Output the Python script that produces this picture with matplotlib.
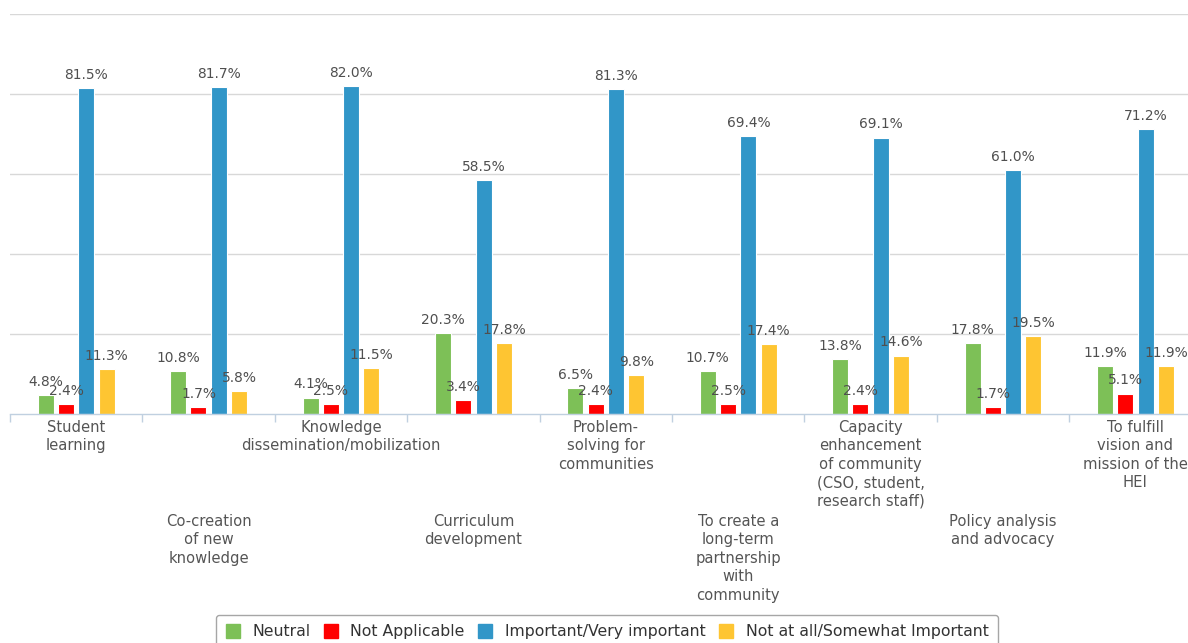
import matplotlib
matplotlib.use("Agg")
import matplotlib.pyplot as plt
from matplotlib.lines import Line2D
import numpy as np

categories = [
    "Student\nlearning",
    "Co-creation\nof new\nknowledge",
    "Knowledge\ndissemination/mobilization",
    "Curriculum\ndevelopment",
    "Problem-\nsolving for\ncommunities",
    "To create a\nlong-term\npartnership\nwith\ncommunity",
    "Capacity\nenhancement\nof community\n(CSO, student,\nresearch staff)",
    "Policy analysis\nand advocacy",
    "To fulfill\nvision and\nmission of the\nHEI",
]

series_names = ["Neutral", "Not Applicable", "Important/Very important",
                "Not at all/Somewhat Important"]
neutral = [4.8, 10.8, 4.1, 20.3, 6.5, 10.7, 13.8, 17.8, 11.9]
not_applicable = [2.4, 1.7, 2.5, 3.4, 2.4, 2.5, 2.4, 1.7, 5.1]
important = [81.5, 81.7, 82.0, 58.5, 81.3, 69.4, 69.1, 61.0, 71.2]
not_at_all = [11.3, 5.8, 11.5, 17.8, 9.8, 17.4, 14.6, 19.5, 11.9]
series_values = [neutral, not_applicable, important, not_at_all]
series_colors = ["#7dc057", "#ff0000", "#3196c8", "#fec532"]

W, H = 1188, 643
fig = plt.figure(figsize=(W / 100, H / 100), dpi=100)
fig.patch.set_facecolor("white")

# plot area: left edge at 10px, baseline at 414px, top grid line at 14px
cat_px = 132.4
left_px, base_px, top_px = 10, 414, 14
ax = fig.add_axes([left_px / W, (H - base_px) / H,
                   len(categories) * cat_px / W, (base_px - top_px) / H])

x = np.arange(len(categories))
pitch = 20.3 / cat_px
bar_w = 16.0 / cat_px
for k, (vals, col) in enumerate(zip(series_values, series_colors)):
    xs = x + (k - 1.5) * pitch
    ax.bar(xs, vals, width=bar_w, color=col, edgecolor="white",
           linewidth=0.8, zorder=3)
    for xi, v in zip(xs, vals):
        ax.annotate(f"{v:.1f}%", (xi, v), xytext=(0, 4.5),
                    textcoords="offset points", ha="center", va="bottom",
                    fontsize=9.9, color="#4f4f4f", zorder=4)

ax.set_xlim(-0.5, len(categories) - 0.5)
ax.set_ylim(0, 100)
ax.set_yticks([20, 40, 60, 80, 100])
ax.yaxis.grid(True, color="#d8d8d8", linewidth=1.0, zorder=0)
ax.tick_params(axis="y", length=0, labelleft=False)

for s in ["top", "right", "left"]:
    ax.spines[s].set_visible(False)
ax.spines["bottom"].set_color("#c0d0e0")
ax.spines["bottom"].set_linewidth(1.0)
ax.spines["bottom"].set_zorder(5)

# category boundary ticks
ax.set_xticks(np.arange(len(categories) + 1) - 0.5, minor=True)
ax.tick_params(axis="x", which="minor", length=6, width=1.0,
               color="#c0d0e0", direction="out")
ax.set_xticks(x)
ax.set_xticklabels(categories, fontsize=10.6, color="#555555",
                   linespacing=1.3, va="top")
ax.tick_params(axis="x", which="major", length=0)
for i, tick in enumerate(ax.xaxis.get_major_ticks()):
    tick.set_pad(4 if i % 2 == 0 else 4 + 94 * 0.72)

handles = [Line2D([0], [0], marker="s", linestyle="none", markersize=10.5,
                  markerfacecolor=c, markeredgecolor=c) for c in series_colors]
leg = fig.legend(handles, series_names, loc="upper center",
                 bbox_to_anchor=(607 / W, 1 - 615 / H), ncol=4,
                 fontsize=11.3, frameon=True, fancybox=True,
                 handlelength=0.9, handletextpad=0.8, columnspacing=0.85,
                 borderpad=0.6, borderaxespad=0, labelcolor="#333333")
leg.get_frame().set_edgecolor("#909090")
leg.get_frame().set_linewidth(1.0)

fig.savefig("out.png", dpi=100, facecolor="white")
